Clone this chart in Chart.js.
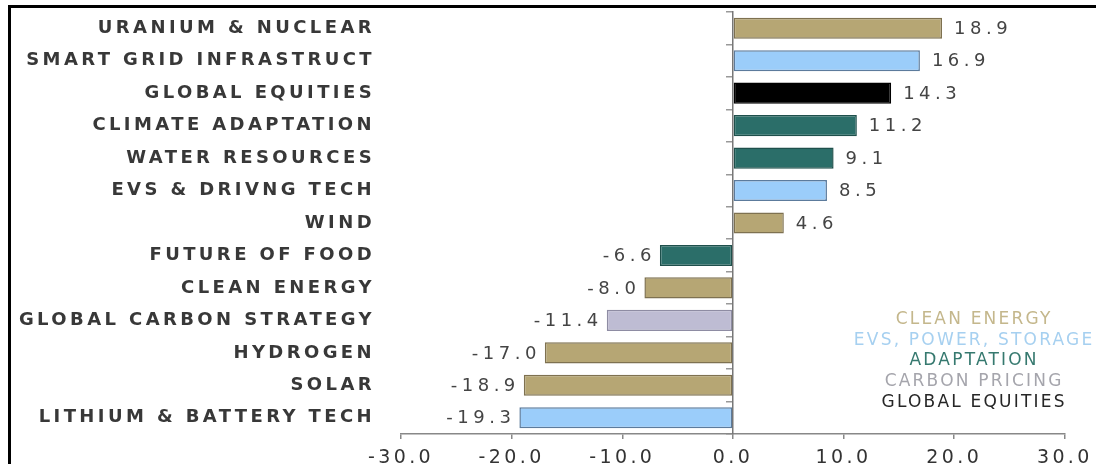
<!DOCTYPE html>
<html>
<head>
<meta charset="utf-8">
<script src="https://cdn.jsdelivr.net/npm/chart.js@4.4.1/dist/chart.umd.min.js"></script>
<style>
    html, body { margin: 0; padding: 0; background: #fff; }
    body { width: 1096px; height: 464px; overflow: hidden; position: relative; }
    #frame {
        position: absolute; left: 8px; top: 5px; width: 1200px; height: 600px;
        border-left: 3px solid #000; border-top: 3px solid #000;
    }
    #wrap { position: absolute; left: 0; top: 0; width: 1096px; height: 464px; }
</style>
</head>
<body>
<div id="frame"></div>
<div id="wrap"><canvas id="themes"></canvas></div>
<script>
// Theme returns, sorted as in the source figure
var categories = [
    "URANIUM & NUCLEAR", "SMART GRID INFRASTRUCT", "GLOBAL EQUITIES", "CLIMATE ADAPTATION",
    "WATER RESOURCES", "EVS & DRIVNG TECH", "WIND", "FUTURE OF FOOD", "CLEAN ENERGY",
    "GLOBAL CARBON STRATEGY", "HYDROGEN", "SOLAR", "LITHIUM & BATTERY TECH"
];
var returns = [18.9, 16.9, 14.3, 11.2, 9.1, 8.5, 4.6, -6.6, -8.0, -11.4, -17.0, -18.9, -19.3];
var groups = ["clean", "evs", "equity", "adapt", "adapt", "evs", "clean", "adapt", "clean", "carbon", "clean", "clean", "evs"];
var xTicks = [-30, -20, -10, 0, 10, 20, 30];

// group names shown in the legend, top to bottom
var legendKeys = ["clean", "evs", "adapt", "carbon", "equity"];
var legendNames = ["CLEAN ENERGY", "EVS, POWER, STORAGE", "ADAPTATION", "CARBON PRICING", "GLOBAL EQUITIES"];

var fills = { clean: "#b6a674", evs: "#9bcdfa", adapt: "#2b6e69", carbon: "#bebcd3", equity: "#000000" };
var edges = { clean: "#7e7150", evs: "#5c7b9c", adapt: "#1f504c", carbon: "#8e8ca3", equity: "#000000" };
var legendColors = { clean: "#c4b78c", evs: "#a6d0f0", adapt: "#36796f", carbon: "#a5a5ac", equity: "#262626" };

var FONT = "'DejaVu Sans', Verdana, sans-serif";

// letter spacing for every text drawn on the canvas
var spacingPlugin = {
    id: "spacing",
    beforeDraw: function (chart) { chart.ctx.letterSpacing = "3.4px"; }
};

// value labels at bar ends
var valueLabels = {
    id: "valueLabels",
    afterDatasetsDraw: function (chart) {
        var ctx = chart.ctx;
        var meta = chart.getDatasetMeta(0);
        ctx.save();
        ctx.letterSpacing = "4.5px";
        ctx.font = "18px " + FONT;
        ctx.fillStyle = "#444";
        ctx.textBaseline = "middle";
        meta.data.forEach(function (bar, i) {
            var v = returns[i];
            var txt = v.toFixed(1);
            if (v >= 0) {
                ctx.textAlign = "left";
                ctx.fillText(txt, bar.x + 12, bar.y + 1);
            } else {
                ctx.textAlign = "right";
                ctx.fillText(txt, bar.x - 4, bar.y + 1);
            }
        });
        ctx.restore();
    }
};

// colored text legend in the lower right
var textLegend = {
    id: "textLegend",
    afterDraw: function (chart) {
        var ctx = chart.ctx;
        var x = chart.scales.x.getPixelForValue(21.8);
        var y = chart.scales.y.getPixelForValue(9) - 1;
        ctx.save();
        ctx.letterSpacing = "2.2px";
        ctx.textAlign = "center";
        ctx.textBaseline = "middle";
        legendKeys.forEach(function (k, i) {
            ctx.font = "17px " + FONT;
            ctx.fillStyle = legendColors[k];
            ctx.fillText(legendNames[i], x, y + i * 20.8);
        });
        ctx.restore();
    }
};

new Chart(document.getElementById("themes"), {
    type: "bar",
    data: {
        labels: categories,
        datasets: [{
            data: returns,
            backgroundColor: groups.map(function (g) { return fills[g]; }),
            borderColor: groups.map(function (g) { return edges[g]; }),
            borderWidth: 1.5,
            borderSkipped: false,
            categoryPercentage: 1,
            barPercentage: 0.65
        }]
    },
    options: {
        indexAxis: "y",
        responsive: true,
        maintainAspectRatio: false,
        animation: false,
        layout: { padding: { top: 11, right: 31, bottom: 0, left: 0 } },
        plugins: { legend: { display: false }, tooltip: { enabled: false } },
        scales: {
            x: {
                min: -30, max: 30,
                afterBuildTicks: function (s) { s.ticks = xTicks.map(function (v) { return { value: v }; }); },
                afterFit: function (s) { s.height = 30; },
                grid: { drawOnChartArea: false, drawTicks: true, tickLength: 5, tickColor: "#888", lineWidth: 1.5 },
                border: { display: true, color: "#888", width: 1.5 },
                ticks: {
                    color: "#333", padding: 10,
                    font: { family: FONT, size: 19, lineHeight: 1 },
                    callback: function (v) { return Number(v).toFixed(1); }
                }
            },
            y: {
                afterFit: function (s) { s.width = 401; },
                // hidden tick marks only reserve the gap between labels and bars
                grid: { display: false, drawTicks: true, tickLength: 23 },
                border: { display: false },
                ticks: { color: "#383838", padding: 3, font: { family: FONT, size: 18, weight: "bold", lineHeight: 1 } }
            },
            y2: {
                axis: "y",
                type: "category",
                position: { x: 0 },
                grid: { offset: true, drawOnChartArea: false, drawTicks: true, tickLength: 6, color: "#999", lineWidth: 1.5 },
                border: { display: true, color: "#777", width: 1.5 },
                ticks: { display: false }
            }
        }
    },
    plugins: [spacingPlugin, valueLabels, textLegend]
});
</script>
</body>
</html>
